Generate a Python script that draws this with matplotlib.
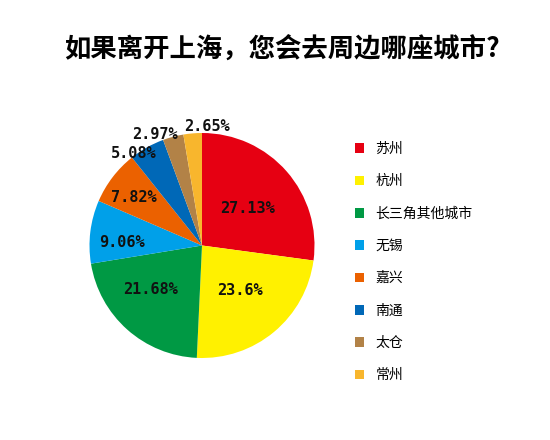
import numpy as np
import matplotlib.pyplot as plt

plt.rcParams['font.family'] = ['Noto Sans CJK SC', 'DejaVu Sans']

# data
cities = ["苏州", "杭州", "长三角其他城市", "无锡", "嘉兴", "南通", "太仓", "常州"]
shares = [27.13, 23.6, 21.68, 9.06, 7.82, 5.08, 2.97, 2.65]
pct_labels = ["27.13%", "23.6%", "21.68%", "9.06%", "7.82%", "5.08%", "2.97%", "2.65%"]
colors = ["#E60012", "#FFF100", "#009944", "#00A0E9",
          "#EB6100", "#0068B7", "#B28247", "#F8B62D"]

# label placement (fraction of radius, angular nudge in degrees)
label_dist = [0.52, 0.52, 0.60, 0.71, 0.74, 1.02, 1.07, 1.06]
label_nudge = [-2, 0, -8, 5, 2, 7, 8, -7]

fig = plt.figure(figsize=(5.5, 4.4), dpi=100)
ax = fig.add_axes([0, 0, 1, 1])

cx, cy, r = 202, 440 - 245.5, 112.5
wedges, _ = ax.pie(shares, colors=colors, startangle=90, counterclock=False,
                   center=(cx, cy), radius=r, frame=True)
ax.set_xlim(0, 550)
ax.set_ylim(0, 440)
ax.set_aspect("equal")
ax.axis("off")

for w, txt, d, n in zip(wedges, pct_labels, label_dist, label_nudge):
    ang = np.deg2rad((w.theta1 + w.theta2) / 2 + n)
    ax.text(cx + d * r * np.cos(ang), cy + d * r * np.sin(ang), txt,
            ha="center", va="center", fontsize=11, fontweight="bold",
            family="DejaVu Sans Mono", color="#111111")

fig.text(0.512, 1 - 49 / 440, "如果离开上海，您会去周边哪座城市?",
         ha="center", va="center", fontsize=19, fontweight="bold")

fig.legend(wedges, cities, loc="upper left", bbox_to_anchor=(0.645, 1 - 142 / 440),
           frameon=False, fontsize=10, labelspacing=1.32, handlelength=0.7,
           handleheight=0.7, handletextpad=0.8, borderpad=0, borderaxespad=0)

fig.savefig("out.png", dpi=100)
